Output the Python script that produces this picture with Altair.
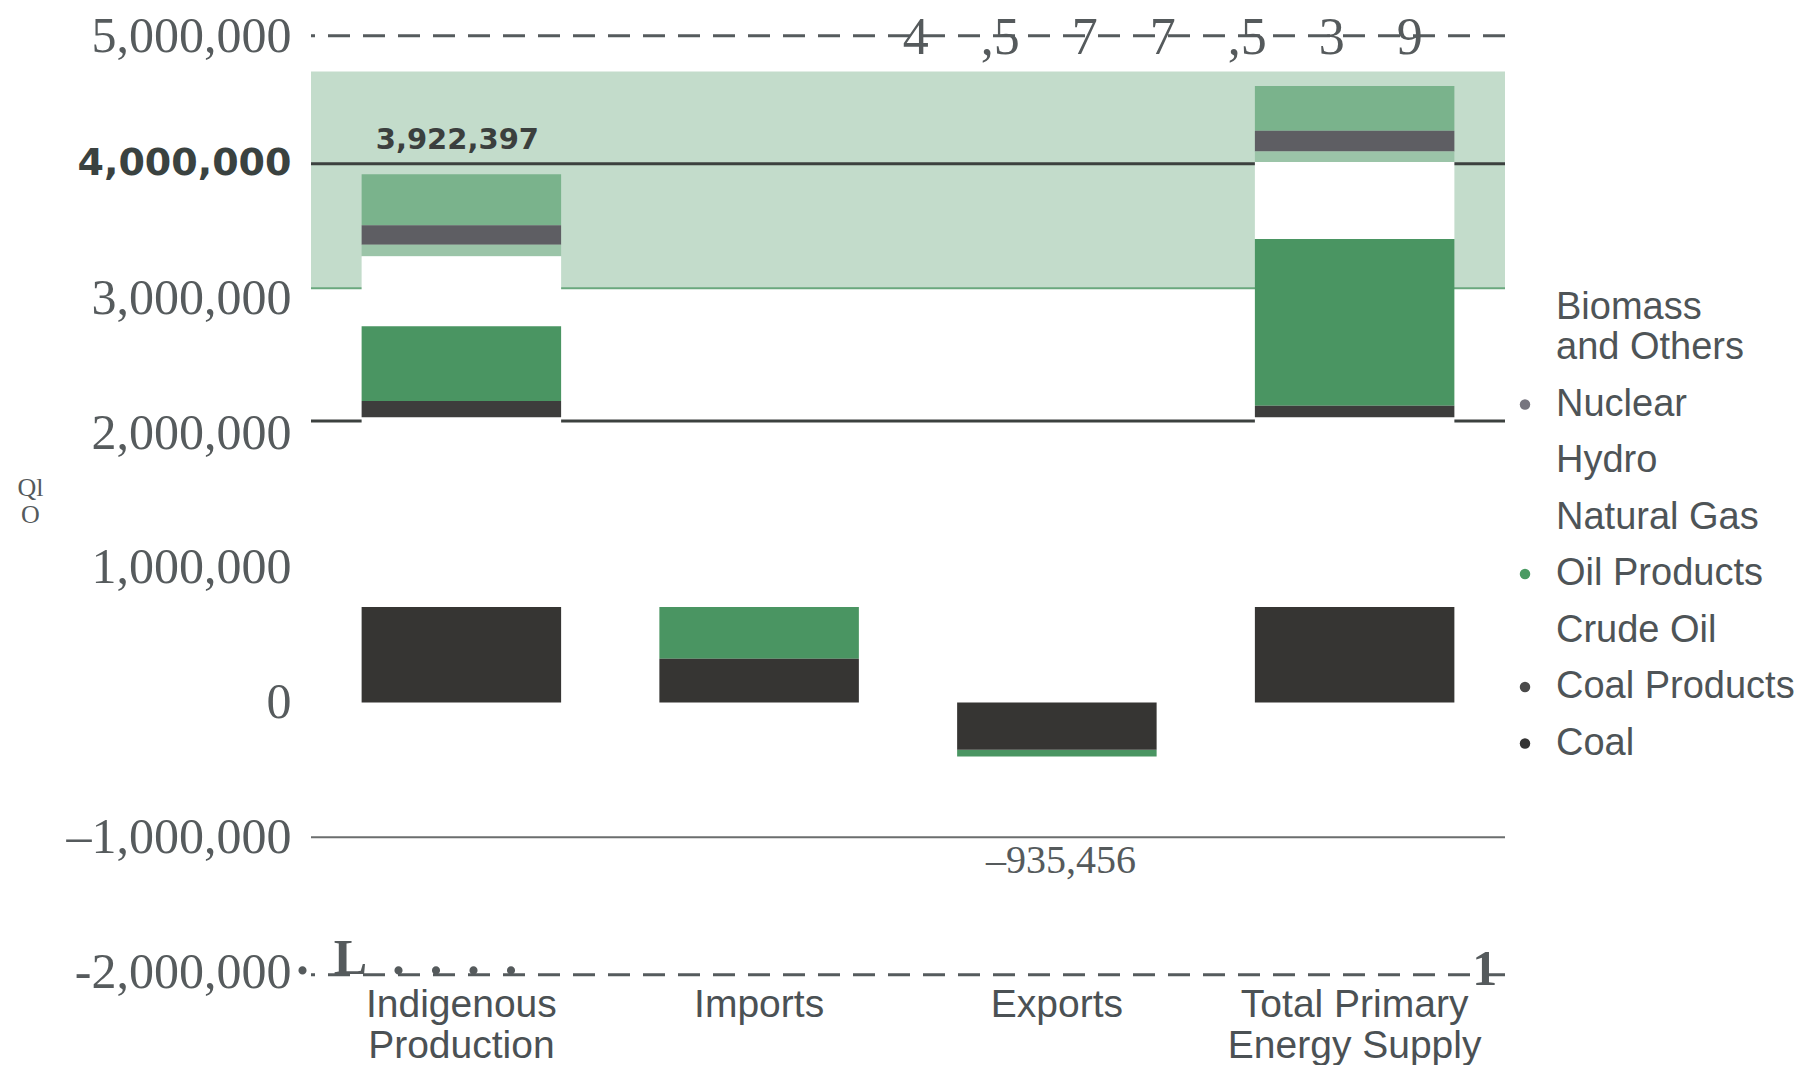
import altair as alt
import pandas as pd

# ---------------- data ----------------
flows = ["Indigenous Production", "Imports", "Exports", "Total Primary Energy Supply"]
sources = ["Biomass and Others", "Nuclear", "Hydro", "Natural Gas",
           "Oil Products", "Crude Oil", "Coal Products", "Coal"]
stack_order = ["Coal", "Crude Oil", "Coal Products", "Oil Products",
               "Natural Gas", "Hydro", "Nuclear", "Biomass and Others"]
source_colors = ["#7ab38c", "#5e5e63", "#9bc4a8", "#ffffff",
                 "#4a9562", "#ffffff", "#3d3d3c", "#363533"]
legend_dot_colors = ["#ffffff", "#77757f", "#ffffff", "#ffffff",
                     "#4a9a62", "#ffffff", "#4a4a4a", "#333333"]

biomass = [378397, 0, 0, 333539]
nuclear = [145000, 0, 0, 154000]
hydro = [85000, 0, 0, 77000]
natural_gas = [521000, 0, 0, 572000]
oil_products = [555000, 384000, -51000, 1238000]
crude_oil = [1409000, 0, 0, 1409000]
coal_products = [120000, 0, 0, 85000]
coal = [709000, 325000, -350000, 709000]

series = {
    "Biomass and Others": biomass, "Nuclear": nuclear, "Hydro": hydro,
    "Natural Gas": natural_gas, "Oil Products": oil_products,
    "Crude Oil": crude_oil, "Coal Products": coal_products, "Coal": coal,
}

total_indigenous = 3922397
total_exports = -935456
total_tpes = 4577539

y_ticks = [-2000000, -1000000, 0, 1000000, 2000000, 3000000, 4000000, 5000000]
band_range = [3073000, 4684000]          # shaded band
grid_dashed = [4950000, -2020000]
grid_dark = [4000000, 2090000]
grid_green = [3075000]
grid_gray = [-1000000]
edge_marks = [".\u2002L\u2002.\u2002.\u2002.\u2002.", "1"]

rows = []
for s in sources:
    for f, v in zip(flows, series[s]):
        rows.append({"flow": f, "source": s, "value": v,
                     "k": stack_order.index(s)})
df = pd.DataFrame(rows)

# ---------------- shared scales / axes ----------------
SERIF = "Liberation Serif"
SANS = "Liberation Sans"

yscale = alt.Scale(domain=[y_ticks[0], y_ticks[-1]], nice=False, zero=False)
yaxis = alt.Axis(
    values=y_ticks, title=["Ql", "O"], titleAngle=0, titleX=-281, titleY=458,
    titleAlign="center", titleBaseline="middle", titleFont=SERIF,
    titleFontSize=26, titleFontWeight="normal", titleColor="#555a5c",
    titleLineHeight=27,
    domain=False, ticks=False, grid=False, labelPadding=20, labelLimit=400,
    labelFont=alt.condition("datum.value === 4000000", alt.value("DejaVu Sans"), alt.value(SERIF)),
    labelFontWeight=alt.condition("datum.value === 4000000", alt.value("bold"), alt.value("normal")),
    labelColor=alt.condition("datum.value === 4000000", alt.value("#3a4240"), alt.value("#565b5d")),
    labelFontSize=alt.condition("datum.value === 4000000", alt.value(38), alt.value(50)),
    labelOffset=alt.condition("datum.value === 5000000", alt.value(7), alt.value(0)),
    labelExpr="datum.value == -2000000 ? '-2,000,000' : (datum.value < 0 ? '\u2013' + format(-datum.value, ',') : format(datum.value, ','))",
)
xscale = alt.Scale(domain=flows, paddingInner=0.33, paddingOuter=0.17)
xaxis = alt.Axis(
    title=None, domain=False, ticks=False, labelAngle=0, labelPadding=13,
    labelFont=SANS, labelFontSize=39, labelColor="#4b5154", labelLineHeight=41,
    labelBaseline="top", labelLimit=400,
    labelExpr="datum.label == 'Indigenous Production' ? ['Indigenous', 'Production'] : "
              "(datum.label == 'Total Primary Energy Supply' ? ['Total Primary', 'Energy Supply'] : datum.label)",
)


def Y(field):
    return alt.Y(field, type="quantitative", scale=yscale, axis=yaxis)


def X():
    return alt.X("flow:N", scale=xscale, axis=xaxis, sort=flows)


def rules(vals, **kw):
    return alt.Chart(pd.DataFrame({"v": vals})).mark_rule(**kw).encode(y=Y("v"))


band = alt.Chart(pd.DataFrame({"lo": [band_range[0]], "hi": [band_range[1]]})).mark_rect(
    color="#c3dccb").encode(y=Y("hi"), y2="lo")

r_dash = rules(grid_dashed, color="#555b5d", strokeWidth=3, strokeDash=[22, 13])
r_dark = rules(grid_dark, color="#3c413f", strokeWidth=3)
r_green = rules(grid_green, color="#6aa87e", strokeWidth=2)
r_gray = rules(grid_gray, color="#6b6e6e", strokeWidth=2)

bars = alt.Chart(df).mark_bar().encode(
    x=X(),
    y=Y("value"),
    color=alt.Color("source:N", scale=alt.Scale(domain=sources, range=source_colors), legend=None),
    order=alt.Order("k:Q", sort="ascending"),
)

# legend-only layer (no rows drawn): its fill scale gives the legend dots
legend_layer = alt.Chart(df).transform_filter("false").mark_point(filled=True, shape="circle").encode(
    x=X(), y=Y("value"),
    fill=alt.Fill("source:N", scale=alt.Scale(domain=sources, range=legend_dot_colors),
                  legend=alt.Legend(
                      title=None, orient="none", legendX=1195, legendY=260,
                      symbolType="circle", symbolSize=110, symbolStrokeWidth=0, symbolOpacity=1,
                      labelFont=SANS, labelFontSize=38, labelColor="#4e5457",
                      labelOffset=12, rowPadding=18.5, labelLimit=400,
                      labelExpr="datum.label == 'Biomass and Others' ? ['Biomass', 'and Others'] : datum.label",
                  )),
)

t_ind = alt.Chart(pd.DataFrame({"flow": [flows[0]], "total": [total_indigenous]})).mark_text(
    font="DejaVu Sans", fontWeight="bold", fontSize=29, color="#3b3f3e",
    baseline="middle", dy=-34, dx=-4).encode(
    x=X(), y=Y("total"), text=alt.Text("total:Q", format=","))

t_exp = alt.Chart(pd.DataFrame({"flow": [flows[2]], "total": [total_exports]})).transform_calculate(
    lab="'\u2013' + format(-datum.total, ',')").mark_text(
    font=SERIF, fontSize=40, color="#555a5c", baseline="middle", dy=32, dx=4).encode(
    x=X(), y=Y("total"), text="lab:N")

tpes_text = "".join(ch + ("\u2003" if ch.isdigit() else "") for ch in f"{total_tpes:,}").rstrip("\u2003")
t_tpes = alt.Chart(pd.DataFrame({"flow": [flows[3]], "top": [y_ticks[-1]], "lab": [tpes_text]})).mark_text(
    font=SERIF, fontSize=52, color="#555a5c", align="left", baseline="middle", dx=-452, dy=9).encode(
    x=X(), y=Y("top"), text="lab:N")

t_left = alt.Chart(pd.DataFrame({"flow": [flows[0]], "bot": [y_ticks[0]], "lab": [edge_marks[0]]})).mark_text(
    font=SERIF, fontSize=50, fontWeight="bold", color="#555a5c", align="left", baseline="alphabetic",
    dx=-165, dy=2).encode(
    x=X(), y=Y("bot"), text="lab:N")

t_right = alt.Chart(pd.DataFrame({"flow": [flows[3]], "bot": [y_ticks[0]], "lab": [edge_marks[1]]})).mark_text(
    font=SERIF, fontSize=50, fontWeight="bold", color="#555a5c", align="center", baseline="alphabetic",
    dx=130, dy=13).encode(
    x=X(), y=Y("bot"), text="lab:N")

chart = alt.layer(
    band, r_dash, r_dark, r_green, r_gray, bars, legend_layer, t_ind, t_exp, t_tpes, t_left, t_right
).resolve_scale(color="independent", fill="independent").properties(
    width=1194, height=943,
    autosize=alt.AutoSizeParams(type="none"),
    padding={"left": 303, "top": 21, "right": 291, "bottom": 93},
    background="white",
).configure_view(stroke=None)

chart.save("out.html", embed_options={"renderer": "svg", "actions": False})
